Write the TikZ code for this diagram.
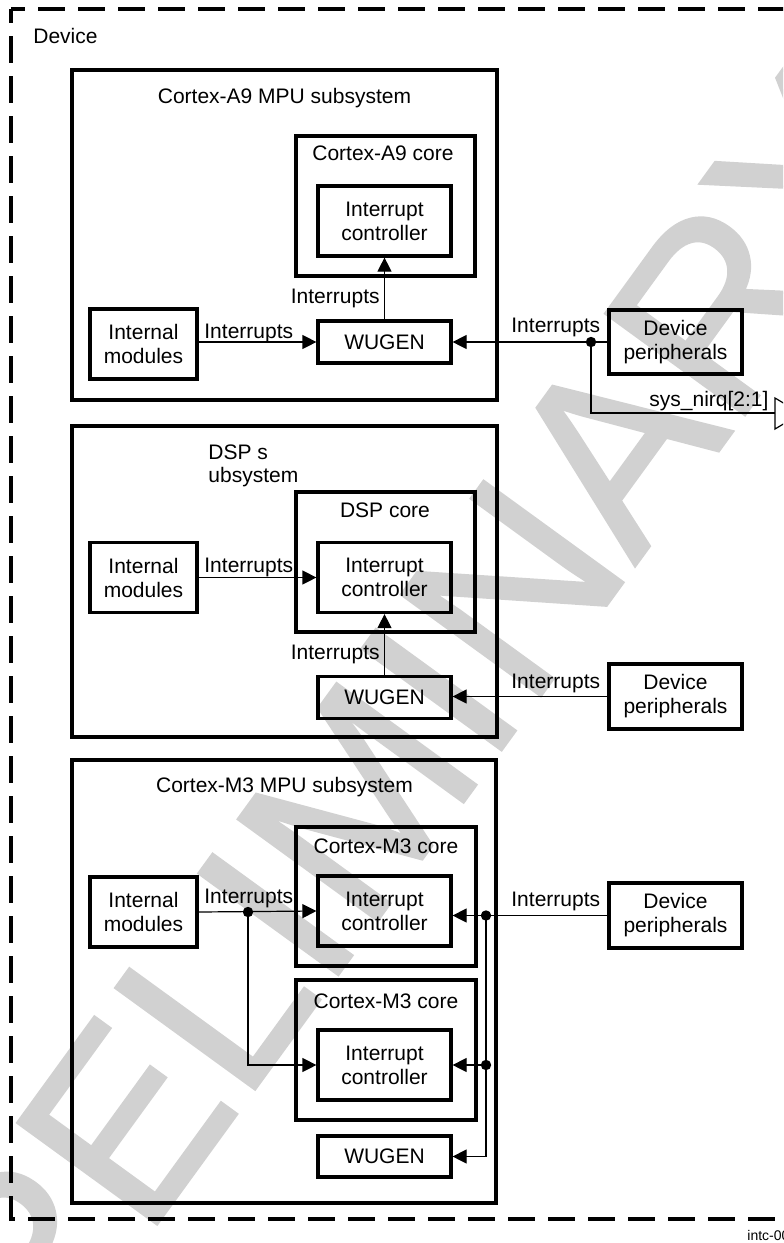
\documentclass[tikz,border=0pt]{standalone}
\usepackage{fontspec}
\setmainfont{Liberation Sans}
\usetikzlibrary{arrows.meta}
\newcommand\dsz{\fontsize{10.5pt}{12pt}\selectfont}
\begin{document}
\begin{tikzpicture}[x=0.5pt,y=-0.5pt,
  bx/.style={draw, line width=1.6pt, inner sep=0pt, align=center, font=\dsz},
  sz/.style 2 args={minimum width=#1, minimum height=#2},
  ttl/.style={inner sep=0pt, font=\dsz, anchor=base},
  lbl/.style={inner sep=0pt, font=\dsz},
  conn/.style={line width=0.6pt},
  arr/.style={conn, -{Triangle[length=7pt,width=7pt]}},
  dot/.style={fill=black},
  wm/.style={inner sep=0pt, text=black!18, font=\fontsize{125pt}{125pt}\selectfont}
]
\useasboundingbox (0,0) rectangle (783,1243);
\clip (0,0) rectangle (783,1243);
\fill[white] (0,0) rectangle (783,1243);

% watermark
\node[wm, rotate=54, anchor=center] (wmk) at (368,787)
  {\special{pdf:literal 2 Tr 0.82 G 1.6 w}PRELIMINARY\special{pdf:literal 0 Tr}};

% device border
\draw[line width=1.6pt, dash pattern=on 13.5pt off 6.5pt, dash phase=6.5pt] (11,9) -- (800,9);
\draw[line width=1.6pt, dash pattern=on 13.5pt off 6.5pt, dash phase=6.5pt] (11,9) -- (11,1219) -- (800,1219);
\node[lbl, anchor=base west] (tdev) at (33,43) {Device};
\node[inner sep=0pt, anchor=base west, font=\fontsize{7pt}{8pt}\selectfont] (tid) at (747,1240) {intc-001};

% ---- Cortex-A9 MPU subsystem
\node[bx, sz={212.5pt}{165pt}] (subA9) at (284.5,235) {};
\node[ttl] (tsubA9) at (284.5,103) {Cortex-A9 MPU subsystem};
\node[bx, sz={89.5pt}{70pt}] (coreA9) at (385.5,206) {};
\node[ttl] (tcoreA9) at (383,160) {Cortex-A9 core};
\node[bx, sz={66.5pt}{35pt}] (icA9) at (384.5,221) {Interrupt\\controller};
\node[bx, sz={66.5pt}{21pt}] (wugA9) at (384.5,342) {WUGEN};
\node[bx, sz={53.5pt}{35pt}] (imA9) at (143.5,344) {Internal\\modules};
\node[bx, sz={66.5pt}{32pt}] (dpA9) at (675.5,342) {Device\\peripherals};

\draw[arr] (imA9.east |- wugA9.west) -- (wugA9.west);
\node[lbl, anchor=base west] (l1) at (204,338) {Interrupts};
\draw[arr] (wugA9.north) -- (icA9.south);
\node[lbl, anchor=base east] (l2) at (380,303) {Interrupts};
\draw[arr] (dpA9.west) -- (wugA9.east);
\node[lbl, anchor=base west] (l3) at (511,332) {Interrupts};
\coordinate (jA9) at (591,342);
\fill[dot] (jA9) circle (2.6pt);
\coordinate (portA) at (775,413);
\draw[conn] (jA9) |- (portA);
\draw[conn] (775,398) -- (801,413.5) -- (775,429) -- cycle;
\node[lbl, anchor=base west] (l4) at (649,406) {sys\_nirq[2:1]};

% ---- DSP subsystem
\node[bx, sz={212.5pt}{155.5pt}] (subDSP) at (284.5,581.5) {};
\node[lbl, anchor=base west] (tsubDSPa) at (208,459) {DSP s};
\node[lbl, anchor=base west] (tsubDSPb) at (208,482) {ubsystem};
\node[bx, sz={89.5pt}{70pt}] (coreDSP) at (385.5,562) {};
\node[ttl] (tcoreDSP) at (385,517) {DSP core};
\node[bx, sz={66.5pt}{35pt}] (icDSP) at (384.5,577.5) {Interrupt\\controller};
\node[bx, sz={66.5pt}{21pt}] (wugDSP) at (384.5,697.5) {WUGEN};
\node[bx, sz={53.5pt}{35pt}] (imDSP) at (143.5,577.5) {Internal\\modules};
\node[bx, sz={66.5pt}{32.5pt}] (dpDSP) at (675.5,696.5) {Device\\peripherals};

\draw[arr] (imDSP.east) -- (icDSP.west);
\node[lbl, anchor=base west] (l5) at (204,572) {Interrupts};
\draw[arr] (wugDSP.north) -- (icDSP.south);
\node[lbl, anchor=base east] (l6) at (380,659) {Interrupts};
\draw[arr] (dpDSP.west) -- (dpDSP.west -| wugDSP.east);
\node[lbl, anchor=base west] (l7) at (511,688) {Interrupts};

% ---- Cortex-M3 MPU subsystem
\node[bx, sz={212pt}{221.5pt}] (subM3) at (284,981.5) {};
\node[ttl] (tsubM3) at (284.5,792) {Cortex-M3 MPU subsystem};
\node[bx, sz={90pt}{69.5pt}] (coreM3a) at (386,896.5) {};
\node[ttl] (tcoreM3a) at (386,853) {Cortex-M3 core};
\node[bx, sz={66.5pt}{35pt}] (icM3a) at (384.5,911) {Interrupt\\controller};
\node[bx, sz={90pt}{70pt}] (coreM3b) at (386,1050) {};
\node[ttl] (tcoreM3b) at (386,1008) {Cortex-M3 core};
\node[bx, sz={66.5pt}{35pt}] (icM3b) at (384.5,1065) {Interrupt\\controller};
\node[bx, sz={66.5pt}{20.5pt}] (wugM3) at (384.5,1156.5) {WUGEN};
\node[bx, sz={53.5pt}{35pt}] (imM3) at (143.5,912) {Internal\\modules};
\node[bx, sz={66.5pt}{32.5pt}] (dpM3) at (675.5,915.5) {Device\\peripherals};

\draw[arr] (imM3.east) -- (icM3a.west);
\node[lbl, anchor=base west] (l8) at (204,903) {Interrupts};
\coordinate (jL) at (248,912);
\fill[dot] (jL) circle (2.6pt);
\draw[arr] (jL) |- (icM3b.west);

\draw[arr] (dpM3.west) -- (icM3a.east |- dpM3.west);
\node[lbl, anchor=base west] (l9) at (511,906) {Interrupts};
\coordinate (jR1) at (486,915.5);
\coordinate (jR2) at (486,1065);
\fill[dot] (jR1) circle (2.6pt);
\fill[dot] (jR2) circle (2.6pt);
\draw[conn] (jR1) -- (jR2);
\draw[arr] (jR2) -- (icM3b.east);
\draw[arr] (jR2) |- (wugM3.east);
\end{tikzpicture}
\end{document}
